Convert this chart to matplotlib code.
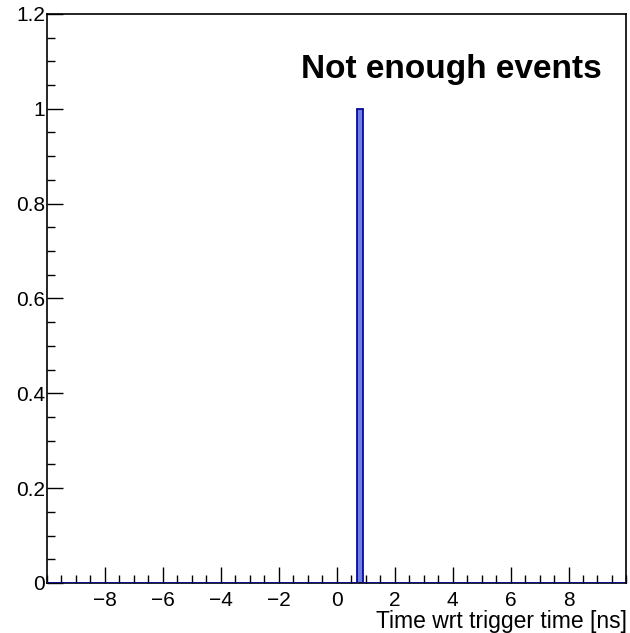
import matplotlib.pyplot as plt
import numpy as np
from matplotlib.ticker import MultipleLocator

plt.rcParams["font.family"] = ["Liberation Sans", "DejaVu Sans"]

# histogram data: one entry in the 0.7-0.9 ns bin
bin_edges = [-10.0, 0.7, 0.9, 10.0]
counts = [0, 1, 0]

x_range = (-10, 10)
y_range = (0, 1.2)
x_ticks = [-8, -6, -4, -2, 0, 2, 4, 6, 8]
y_ticks = [0, 0.2, 0.4, 0.6, 0.8, 1.0, 1.2]
y_tick_labels = ["0", "0.2", "0.4", "0.6", "0.8", "1", "1.2"]
x_label = "Time wrt trigger time [ns]"
message = "Not enough events"


def main():
    fig = plt.figure(figsize=(6.3, 6.33), dpi=100)
    ax = fig.add_axes([0.0746, 0.079, 0.9198, 0.899])

    ax.stairs(counts, bin_edges, fill=True, color="#6f7fe8", zorder=2)
    ax.stairs(counts, bin_edges, color="#0a0a9a", linewidth=1.3, zorder=3)

    ax.set_xlim(*x_range)
    ax.set_ylim(*y_range)

    ax.xaxis.set_minor_locator(MultipleLocator(0.5))
    ax.yaxis.set_minor_locator(MultipleLocator(0.05))
    ax.set_yticks(y_ticks)
    ax.set_yticklabels(y_tick_labels)
    ax.set_xticks(x_ticks)
    ax.set_xticklabels([str(v).replace("-", "\u2212") for v in x_ticks])

    ax.tick_params(which="both", direction="in", top=False, right=False,
                   width=1.0, labelsize=15)
    ax.tick_params(which="major", length=11.5)
    ax.tick_params(which="minor", length=5.8)
    ax.tick_params(axis="x", pad=6)
    ax.tick_params(axis="y", pad=1.5)

    for spine in ax.spines.values():
        spine.set_linewidth(1.2)

    fig.text(0.995, 0.0079, x_label, ha="right", va="baseline", fontsize=16.5)
    ax.text(0.958, 0.9016, message, transform=ax.transAxes, ha="right",
            va="center", fontsize=24, fontweight="bold")

    fig.savefig("out.png", dpi=100)
    plt.close(fig)


if __name__ == "__main__":
    main()
